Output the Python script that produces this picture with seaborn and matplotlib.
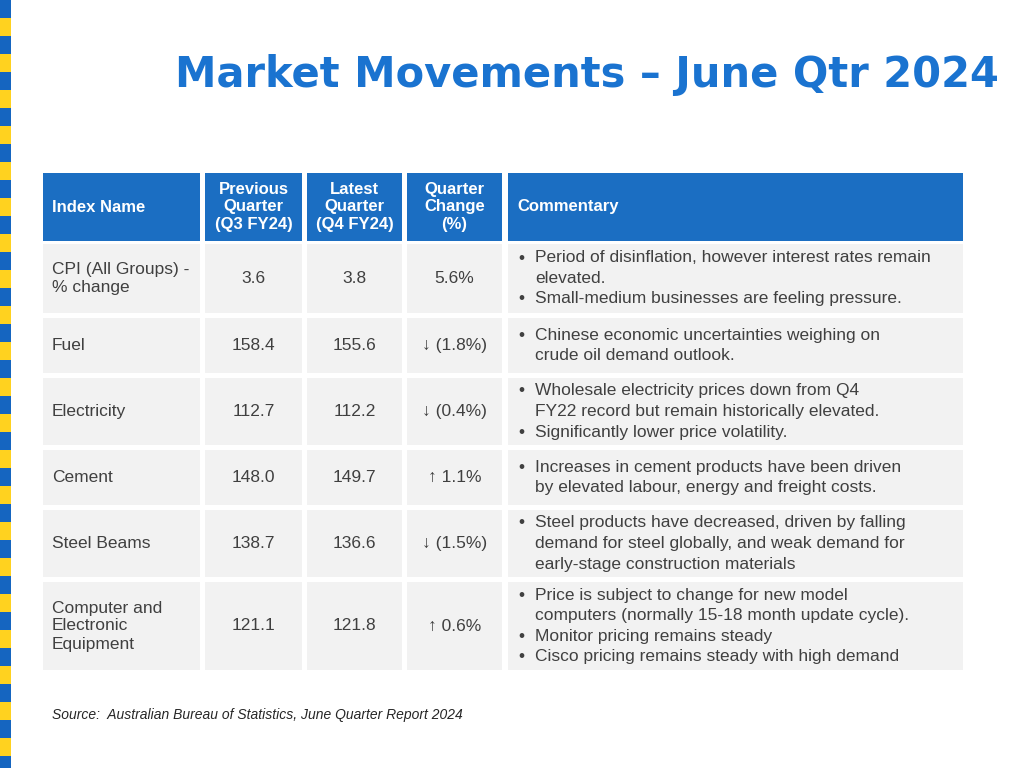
import matplotlib
matplotlib.use("Agg")
import matplotlib.pyplot as plt
from matplotlib.patches import Rectangle
import seaborn as sns

# Table data
headers = ["Index Name", "Previous\nQuarter\n(Q3 FY24)", "Latest\nQuarter\n(Q4 FY24)", "Quarter\nChange\n(%)", "Commentary"]
index_names = ["CPI (All Groups) -\n% change", "Fuel", "Electricity", "Cement", "Steel Beams",
               "Computer and\nElectronic\nEquipment"]
previous_qtr = ["3.6", "158.4", "112.7", "148.0", "138.7", "121.1"]
latest_qtr = ["3.8", "155.6", "112.2", "149.7", "136.6", "121.8"]
quarter_change = ["5.6%", "\u2193 (1.8%)", "\u2193 (0.4%)", "\u2191 1.1%", "\u2193 (1.5%)", "\u2191 0.6%"]
commentary = [
    [("Period of disinflation, however interest rates remain", "elevated."),
     ("Small-medium businesses are feeling pressure.",)],
    [("Chinese economic uncertainties weighing on", "crude oil demand outlook.")],
    [("Wholesale electricity prices down from Q4", "FY22 record but remain historically elevated."),
     ("Significantly lower price volatility.",)],
    [("Increases in cement products have been driven", "by elevated labour, energy and freight costs.")],
    [("Steel products have decreased, driven by falling", "demand for steel globally, and weak demand for",
      "early-stage construction materials")],
    [("Price is subject to change for new model", "computers (normally 15-18 month update cycle)."),
     ("Monitor pricing remains steady",), ("Cisco pricing remains steady with high demand",)],
]
source_note = "Source:  Australian Bureau of Statistics, June Quarter Report 2024"

sns.set_theme(style="white", font="Liberation Sans")
BLUE = "#1565C0"
HEAD = "#1B6EC2"
YELLOW = "#FFD21F"
GRAY = "#F2F2F2"
TXT = "#404040"

fig = plt.figure(figsize=(10.24, 7.68), dpi=100)
ax = fig.add_axes([0, 0, 1, 1])
ax.set_xlim(0, 1024)
ax.set_ylim(768, 0)
ax.axis("off")

# left stripe
for i in range(0, 22):
    ax.add_patch(Rectangle((0, i * 36), 11, 18, color="#1565C0", lw=0))
    ax.add_patch(Rectangle((0, i * 36 + 18), 11, 18, color=YELLOW, lw=0))

ax.text(175, 75, "Market Movements \u2013 June Qtr 2024", color="#1A73D0", fontsize=30,
        fontweight="bold", family="Liberation Sans Narrow", va="center", ha="left")

cols = [(43, 200), (205, 302), (307, 402), (407, 502), (508, 963)]
head_y = (173, 241)
rows = [(244, 313), (318, 373), (378, 445), (450, 505), (510, 577), (582, 670)]

for j, (x0, x1) in enumerate(cols):
    ax.add_patch(Rectangle((x0, head_y[0]), x1 - x0, head_y[1] - head_y[0], color=HEAD, lw=0))
    ym = (head_y[0] + head_y[1]) / 2
    if j in (0, 4):
        ax.text(x0 + 9, ym, headers[j], color="white", fontsize=12, fontweight="bold", va="center")
    else:
        ax.text((x0 + x1) / 2, ym, headers[j], color="white", fontsize=12, fontweight="bold",
                va="center", ha="center", linespacing=1.2)

for i, (y0, y1) in enumerate(rows):
    ym = (y0 + y1) / 2
    for (x0, x1) in cols:
        ax.add_patch(Rectangle((x0, y0), x1 - x0, y1 - y0, color=GRAY, lw=0))
    ax.text(cols[0][0] + 9, ym, index_names[i], color=TXT, fontsize=12.5, va="center", linespacing=1.25)
    for j, vals in zip((1, 2, 3), (previous_qtr, latest_qtr, quarter_change)):
        ax.text(sum(cols[j]) / 2, ym, vals[i], color=TXT, fontsize=12.5, va="center", ha="center")
    lines = []
    for bullet in commentary[i]:
        for k, ln in enumerate(bullet):
            lines.append((k == 0, ln))
    lh = 20.5
    ytop = ym - lh * (len(lines) - 1) / 2
    for k, (is_b, ln) in enumerate(lines):
        yy = ytop + k * lh
        if is_b:
            ax.text(cols[4][0] + 10, yy, "\u2022", color=TXT, fontsize=12.5, va="center")
        ax.text(cols[4][0] + 27, yy, ln, color=TXT, fontsize=12.5, va="center")

ax.text(52, 715, source_note, color="#262626", fontsize=10, style="italic", va="center")

fig.savefig("out.png", dpi=100)
